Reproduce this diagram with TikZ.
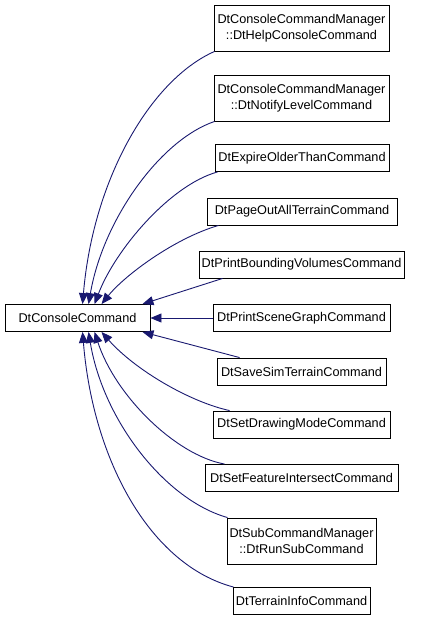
\documentclass[tikz,border=0pt]{standalone}
\usepackage{fontspec}
\setmainfont{Liberation Sans}
\usetikzlibrary{arrows.meta}
\definecolor{edgeblue}{RGB}{25,25,112}
\tikzset{
  cls/.style={draw=black, line width=0.9pt, fill=white, inner sep=0pt, align=center,
    font=\fontsize{12.7}{16}\selectfont},
  inh/.style={draw=edgeblue, line width=0.9pt, {Triangle[length=11pt,width=9pt]}-}
}
\begin{document}
\begin{tikzpicture}[x=1pt,y=-1pt]
\useasboundingbox (0,0) rectangle (432,621);
\node[cls, minimum width=145pt, minimum height=27pt] (p) at (77.5,318) {DtConsoleCommand};
\node[cls, minimum width=175pt, minimum height=46pt] (c1) at (301.5,28) {DtConsoleCommandManager\\::DtHelpConsoleCommand};
\node[cls, minimum width=175pt, minimum height=46pt] (c2) at (301.5,98) {DtConsoleCommandManager\\::DtNotifyLevelCommand};
\node[cls, minimum width=174pt, minimum height=27pt] (c3) at (302,158) {DtExpireOlderThanCommand};
\node[cls, minimum width=190pt, minimum height=27pt] (c4) at (302,211.5) {DtPageOutAllTerrainCommand};
\node[cls, minimum width=205pt, minimum height=27pt] (c5) at (301.5,264.5) {DtPrintBoundingVolumesCommand};
\node[cls, minimum width=177pt, minimum height=27pt] (c6) at (301.5,318) {DtPrintSceneGraphCommand};
\node[cls, minimum width=169pt, minimum height=27pt] (c7) at (301.5,371.5) {DtSaveSimTerrainCommand};
\node[cls, minimum width=177pt, minimum height=27pt] (c8) at (301.5,424.5) {DtSetDrawingModeCommand};
\node[cls, minimum width=193pt, minimum height=27pt] (c9) at (301.5,478) {DtSetFeatureIntersectCommand};
\node[cls, minimum width=149pt, minimum height=46pt] (c10) at (301.5,541) {DtSubCommandManager\\::DtRunSubCommand};
\node[cls, minimum width=137pt, minimum height=27pt] (c11) at (301.5,601) {DtTerrainInfoCommand};

\coordinate (t1) at ([xshift=78pt]p.north west);
\coordinate (t2) at ([xshift=84pt]p.north west);
\coordinate (t3) at ([xshift=90pt]p.north west);
\coordinate (t4) at ([xshift=97pt]p.north west);
\coordinate (t5) at ([xshift=-8pt]p.north east);
\coordinate (b8) at ([xshift=97pt]p.south west);
\coordinate (b9) at ([xshift=90pt]p.south west);
\coordinate (b10) at ([xshift=84pt]p.south west);
\coordinate (b11) at ([xshift=78pt]p.south west);
\coordinate (b7) at ([xshift=-8pt]p.south east);

\coordinate (s1) at ([xshift=1pt]c1.south west);
\coordinate (s2) at ([xshift=1pt]c2.south west);
\coordinate (s3) at ([xshift=3pt]c3.south west);
\coordinate (s4) at ([xshift=12pt]c4.south west);
\coordinate (s5) at ([xshift=24pt]c5.south west);
\coordinate (s7) at ([xshift=23pt]c7.north west);
\coordinate (s8) at ([xshift=17pt]c8.north west);
\coordinate (s9) at ([xshift=20pt]c9.north west);
\coordinate (s10) at ([xshift=1pt]c10.north west);
\coordinate (s11) at ([xshift=1pt]c11.north west);

\draw[inh] (t1) .. controls (93,180) and (150,80) .. (s1);
\draw[inh] (t2) .. controls (103,220) and (160,140) .. (s2);
\draw[inh] (t3) .. controls (115,250) and (170,185) .. (s3);
\draw[inh] (t4) .. controls (125,275) and (175,238) .. (s4);
\draw[inh] (t5) -- (s5);
\draw[inh] (p.east) -- (c6.west);
\draw[inh] (b7) -- (s7);
\draw[inh] (b8) .. controls (135,370) and (190,402) .. (s8);
\draw[inh] (b9) .. controls (115,395) and (175,455) .. (s9);
\draw[inh] (b10) .. controls (103,420) and (165,500) .. (s10);
\draw[inh] (b11) .. controls (93,460) and (150,565) .. (s11);
\end{tikzpicture}
\end{document}
